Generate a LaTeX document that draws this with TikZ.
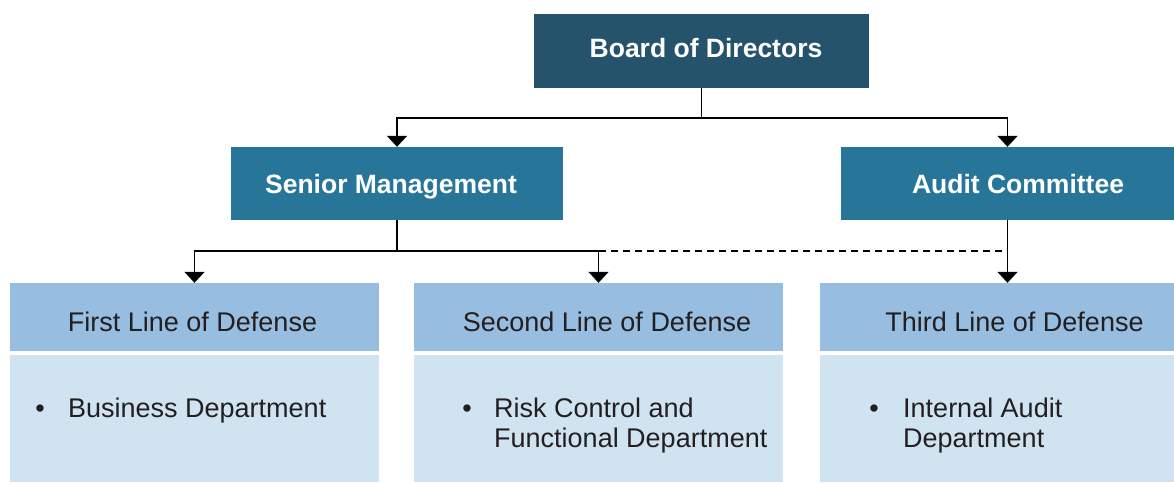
\documentclass[tikz,border=0pt]{standalone}
\usepackage{fontspec}
\setmainfont{Liberation Sans}
\usetikzlibrary{arrows.meta}
\definecolor{boardc}{HTML}{24536B}
\definecolor{midc}{HTML}{27769A}
\definecolor{headc}{HTML}{97BDE0}
\definecolor{bodyc}{HTML}{D0E3F1}
\definecolor{txtc}{HTML}{231F20}
\tikzset{
  box/.style={rectangle, draw=none, inner sep=0pt},
  toptext/.style={anchor=base, inner sep=0pt, text=white, font=\fontsize{26.5}{30}\selectfont\bfseries},
  headtext/.style={anchor=base, inner sep=0pt, text=txtc, font=\fontsize{27}{30}\selectfont},
  bodytext/.style={anchor=base west, inner sep=0pt, text=txtc, font=\fontsize{27}{30}\selectfont},
  bullettext/.style={anchor=base, inner sep=0pt, text=txtc, font=\fontsize{27}{30}\selectfont},
  conn/.style={draw=black, line width=1.5pt},
  arr/.style={conn, -{Triangle[width=20pt,length=11pt]}},
  dashconn/.style={conn, dash pattern=on 7pt off 5pt}
}
\begin{document}
\begin{tikzpicture}[x=1pt,y=-1pt]
\useasboundingbox (0,0) rectangle (1174,482);
% boxes
\node[box, fill=boardc, minimum width=335pt, minimum height=74pt] (b) at (701.5,51) {};
\node[box, fill=midc, minimum width=332pt, minimum height=73pt] (s) at (397,183.5) {};
\node[box, fill=midc, minimum width=333pt, minimum height=73pt] (a) at (1007.5,183.5) {};
\node[box, fill=headc, minimum width=369pt, minimum height=68pt] (h1) at (194.5,317) {};
\node[box, fill=headc, minimum width=369pt, minimum height=68pt] (h2) at (598.5,317) {};
\node[box, fill=headc, minimum width=354pt, minimum height=68pt] (h3) at (997,317) {};
\node[box, fill=bodyc, minimum width=369pt, minimum height=127pt] (d1) at (194.5,418.5) {};
\node[box, fill=bodyc, minimum width=369pt, minimum height=127pt] (d2) at (598.5,418.5) {};
\node[box, fill=bodyc, minimum width=354pt, minimum height=127pt] (d3) at (997,418.5) {};
% texts
\node[toptext] (bt) at (706,57) {Board of Directors};
\node[toptext] (st) at (391,193) {Senior Management};
\node[toptext] (at) at (1018,193) {Audit Committee};
\node[headtext] (h1t) at (192.5,331) {First Line of Defense};
\node[headtext] (h2t) at (607,331) {Second Line of Defense};
\node[headtext] (h3t) at (1014.5,331) {Third Line of Defense};
\node[bullettext] (d1b) at (40,417) {•};
\node[bodytext] (d1t) at (68,417) {Business Department};
\node[bullettext] (d2b) at (467,417) {•};
\node[bodytext] (d2t) at (494,417) {Risk Control and};
\node[bodytext] (d2u) at (494,447) {Functional Department};
\node[bullettext] (d3b) at (874,417) {•};
\node[bodytext] (d3t) at (903,417) {Internal Audit};
\node[bodytext] (d3u) at (903,447) {Department};
% connectors
\draw[conn] (b.south) -- ++(0,30) coordinate (j1);
\draw[arr] (j1) -| (s.north);
\draw[arr] (j1) -| (a.north);
\draw[conn] (s.south) -- ++(0,31) coordinate (j2);
\draw[arr] (j2) -| (h1.north);
\draw[arr] (j2) -| (h2.north);
\draw[dashconn] (j2 -| h2.north) -- (j2 -| a.south);
\draw[arr] (a.south) -- (a.south |- h3.north);
\end{tikzpicture}
\end{document}
